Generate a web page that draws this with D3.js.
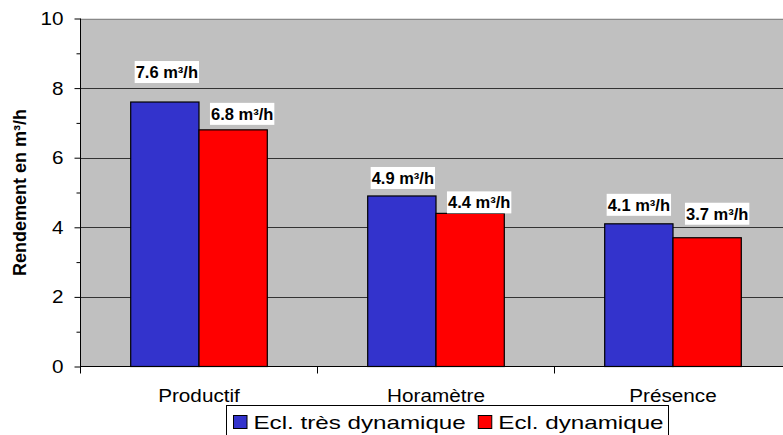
<!DOCTYPE html>
<html>
<head>
<meta charset="utf-8">
<script src="https://cdn.jsdelivr.net/npm/d3@7"></script>
<style>
  html, body { margin: 0; padding: 0; background: #fff; }
  svg { display: block; }
  text { font-family: "Liberation Sans", Arial, sans-serif; fill: #000; }
</style>
</head>
<body>
<svg id="chart" width="783" height="435"></svg>
<script>
// Output per lighting control mode, in m³/h
const categories = ["Productif", "Horamètre", "Présence"];
const seriesNames = ["Ecl. très dynamique", "Ecl. dynamique"];
const tresDynamique = [7.6, 4.9, 4.1];
const dynamique = [6.8, 4.4, 3.7];
const yTicks = [0, 2, 4, 6, 8, 10];
const yMinorTicks = [1, 3, 5, 7, 9];
const unitLabel = "m³/h";
const yTitle = "Rendement en m³/h";

// Hand-placed value label offsets (relative to the top centre of each bar)
const labelOffsets = [
  [[2, -30], [9, -16]],
  [[1, -18], [9, -11]],
  [[0, -19], [10, -24]]
];

const colors = ["#3333cc", "#ff0000"];
const series = [tresDynamique, dynamique];

const svg = d3.select("#chart");
const W = 783, H = 435;
const plot = { left: 80.5, top: 18.5, bottom: 366.5, band: 237 };
const plotRight = plot.left + plot.band * categories.length;

const x = d3.scaleBand().domain(categories).range([plot.left, plotRight]).paddingInner(0).paddingOuter(0);
const xs = d3.scaleBand().domain(seriesNames).range([0, x.bandwidth()]).paddingInner(0).paddingOuter(0.735);
const y = d3.scaleLinear().domain([0, 10]).range([plot.bottom, plot.top]);

// horizontally stretched text helper
function stext(g, tx, ty, str, size, sx, anchor, weight) {
  return g.append("text")
    .attr("transform", `translate(${tx},${ty}) scale(${sx},1)`)
    .attr("text-anchor", anchor || "start")
    .style("font-size", size + "px")
    .style("font-weight", weight || "normal")
    .text(str);
}

// plot background
svg.append("rect")
  .attr("x", plot.left).attr("y", y(10))
  .attr("width", plotRight - plot.left).attr("height", y(0) - y(10))
  .attr("fill", "#c0c0c0");

// horizontal gridlines
svg.append("g").selectAll("line")
  .data(yTicks.filter(d => d > 0 && d < 10))
  .join("line")
  .attr("x1", plot.left).attr("x2", plotRight)
  .attr("y1", d => Math.round(y(d)) + 0.5).attr("y2", d => Math.round(y(d)) + 0.5)
  .attr("stroke", "#333").attr("stroke-width", 1);

// top border of plot area
svg.append("line")
  .attr("x1", plot.left).attr("x2", plotRight)
  .attr("y1", Math.round(y(10)) + 0.5).attr("y2", Math.round(y(10)) + 0.5)
  .attr("stroke", "#888").attr("stroke-width", 1);

// bars
const groups = svg.append("g").selectAll("g")
  .data(categories)
  .join("g")
  .attr("transform", d => `translate(${x(d)},0)`);

groups.selectAll("rect")
  .data((c, i) => series.map((s, j) => ({ cat: c, ci: i, si: j, v: s[i] })))
  .join("rect")
  .attr("x", d => xs(seriesNames[d.si]))
  .attr("y", d => y(d.v))
  .attr("width", xs.bandwidth())
  .attr("height", d => y(0) - y(d.v))
  .attr("fill", d => colors[d.si])
  .attr("stroke", "#000").attr("stroke-width", 1.2);

// Y axis with major and minor ticks
const yAxis = d3.axisLeft(y).tickValues(yTicks).tickSize(6).tickFormat("");
const yAxisG = svg.append("g").attr("transform", `translate(${plot.left},0)`).call(yAxis);
yAxisG.select(".domain").remove();
yAxisG.selectAll("line").attr("stroke", "#000");
svg.append("g").attr("transform", `translate(${plot.left},0)`)
  .call(d3.axisLeft(y).tickValues(yMinorTicks).tickSize(4).tickFormat(""))
  .call(g => g.select(".domain").remove())
  .selectAll("line").attr("stroke", "#000");
svg.append("line")
  .attr("x1", plot.left).attr("x2", plot.left)
  .attr("y1", y(10)).attr("y2", y(0) + 7)
  .attr("stroke", "#000");

const yLab = svg.append("g");
yTicks.forEach(t => stext(yLab, 63.5, y(t) + 6.4, String(t), 17.7, 1.17, "end"));

// X axis: baseline and ticks between categories
svg.append("line")
  .attr("x1", plot.left).attr("x2", plotRight)
  .attr("y1", y(0)).attr("y2", y(0))
  .attr("stroke", "#000").attr("stroke-width", 1.2);
svg.append("g").selectAll("line")
  .data(categories.slice(1))
  .join("line")
  .attr("x1", d => x(d)).attr("x2", d => x(d))
  .attr("y1", y(0)).attr("y2", y(0) + 7)
  .attr("stroke", "#000");

const xLab = svg.append("g");
categories.forEach(c => stext(xLab, x(c) + x.bandwidth() / 2, 401.5, c, 18.5, 1.12, "middle"));

// Y axis title
svg.append("text")
  .attr("transform", `translate(26,${(y(0) + y(10)) / 2}) rotate(-90)`)
  .attr("text-anchor", "middle")
  .style("font-size", "18px").style("font-weight", "bold")
  .text(yTitle);

// value labels on white boxes
const labG = svg.append("g");
categories.forEach((c, i) => {
  series.forEach((s, j) => {
    const v = s[i];
    const bx = x(c) + xs(seriesNames[j]) + xs.bandwidth() / 2;
    const by = y(v);
    const [dx, dy] = labelOffsets[i][j];
    const cx = bx + dx, cy = by + dy;
    const g = labG.append("g");
    const t = g.append("text")
      .attr("x", cx).attr("y", cy + 5.8)
      .attr("text-anchor", "middle")
      .style("font-size", "16.5px").style("font-weight", "bold")
      .text(`${v.toFixed(1)} ${unitLabel}`);
    const bb = t.node().getBBox();
    g.insert("rect", "text")
      .attr("x", bb.x - 1).attr("y", cy - 11)
      .attr("width", bb.width + 2).attr("height", 22)
      .attr("fill", "#fff");
  });
});

// legend
const leg = svg.append("g");
leg.append("rect")
  .attr("x", 226.5).attr("y", 405.5)
  .attr("width", 442).attr("height", 40)
  .attr("fill", "#fff").attr("stroke", "#000");
let lx = 233;
seriesNames.forEach((name, j) => {
  leg.append("rect")
    .attr("x", lx + 0.5).attr("y", 415.5)
    .attr("width", 13.5).attr("height", 13)
    .attr("fill", colors[j]).attr("stroke", "#000");
  const t = stext(leg, lx + 20.5, 429, name, 18.6, 1.3, "start");
  const w = t.node().getBBox().width * 1.3;
  lx = lx + 20.5 + w + 12;
});
</script>
</body>
</html>
